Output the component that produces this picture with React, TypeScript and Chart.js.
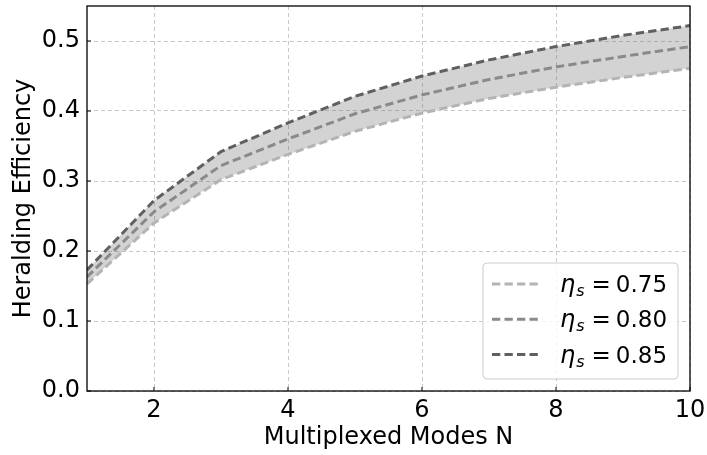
import React, { useEffect, useRef } from 'react';
import { Chart, registerables } from 'chart.js';

Chart.register(...registerables);

const modes = [1, 2, 3, 4, 5, 6, 7, 8, 9, 10];
const eta075 = [0.153, 0.240, 0.302, 0.338, 0.371, 0.397, 0.418, 0.434, 0.448, 0.461];
const eta080 = [0.163, 0.256, 0.322, 0.360, 0.396, 0.423, 0.445, 0.463, 0.478, 0.492];
const eta085 = [0.173, 0.272, 0.342, 0.383, 0.421, 0.450, 0.473, 0.492, 0.508, 0.522];
const etaLabels = ['0.75', '0.80', '0.85'];
const xTicks = [2, 4, 6, 8, 10];
const yTicks = [0, 0.1, 0.2, 0.3, 0.4, 0.5];

const FONT = 'DejaVu Sans';
const lineColors = ['#b4b4b4', '#8a8a8a', '#606060'];
const DASH = [8.3, 4.2];

const decorPlugin = {
  id: 'decor',
  afterDraw(chart: any) {
    const { ctx, chartArea: a, scales } = chart;
    ctx.save();
    // inward ticks
    ctx.strokeStyle = '#000';
    ctx.lineWidth = 1;
    xTicks.forEach((v) => {
      const px = scales.x.getPixelForValue(v);
      ctx.beginPath();
      ctx.moveTo(px, a.bottom);
      ctx.lineTo(px, a.bottom - 4);
      ctx.stroke();
    });
    yTicks.forEach((v) => {
      const py = scales.y.getPixelForValue(v);
      ctx.beginPath();
      ctx.moveTo(a.left, py);
      ctx.lineTo(a.left + 4, py);
      ctx.stroke();
    });
    // frame
    ctx.lineWidth = 1.3;
    ctx.strokeRect(a.left, a.top, a.right - a.left, a.bottom - a.top);

    // legend
    const w = 195;
    const h = 116;
    const lx = a.right - 12 - w;
    const ly = a.bottom - 12 - h;
    ctx.beginPath();
    ctx.roundRect(lx, ly, w, h, 4);
    ctx.fillStyle = 'rgba(255,255,255,0.8)';
    ctx.fill();
    ctx.strokeStyle = '#cccccc';
    ctx.lineWidth = 1;
    ctx.stroke();

    chart.data.datasets.forEach((ds: any, i: number) => {
      const cy = ly + 21 + i * 35.3;
      ctx.save();
      ctx.strokeStyle = ds.borderColor;
      ctx.lineWidth = ds.borderWidth;
      ctx.setLineDash(ds.borderDash);
      ctx.beginPath();
      ctx.moveTo(lx + 9, cy);
      ctx.lineTo(lx + 57, cy);
      ctx.stroke();
      ctx.restore();

      const base = cy + 8;
      let tx = lx + 77;
      ctx.fillStyle = '#000';
      ctx.textBaseline = 'alphabetic';
      ctx.textAlign = 'left';
      ctx.font = `italic 24px ${FONT}`;
      ctx.fillText('η', tx, base);
      tx += ctx.measureText('η').width + 1;
      ctx.font = `italic 16px ${FONT}`;
      ctx.fillText('s', tx, base + 4);
      tx += ctx.measureText('s').width + 7;
      ctx.font = `23px ${FONT}`;
      ctx.fillText('=', tx, base);
      tx += ctx.measureText('=').width + 5;
      ctx.fillText(etaLabels[i], tx, base);
    });
    ctx.restore();
  },
};

export default function App() {
  const ref = useRef<HTMLCanvasElement | null>(null);

  useEffect(() => {
    document.body.style.margin = '0';
    const canvas = ref.current;
    if (!canvas) return;
    const mk = (vals: number[]) => modes.map((m, i) => ({ x: m, y: vals[i] }));
    const chart = new Chart(canvas, {
      type: 'line',
      data: {
        datasets: [
          {
            label: 'ηs = 0.75',
            data: mk(eta075),
            borderColor: lineColors[0],
            borderWidth: 3,
            borderDash: DASH,
            pointRadius: 0,
            fill: false,
          },
          {
            label: 'ηs = 0.80',
            data: mk(eta080),
            borderColor: lineColors[1],
            borderWidth: 3,
            borderDash: DASH,
            pointRadius: 0,
            fill: false,
          },
          {
            label: 'ηs = 0.85',
            data: mk(eta085),
            borderColor: lineColors[2],
            borderWidth: 3,
            borderDash: DASH,
            pointRadius: 0,
            fill: 0,
            backgroundColor: 'rgba(110,110,110,0.3)',
          },
        ],
      },
      options: {
        animation: false,
        responsive: false,
        maintainAspectRatio: false,
        layout: { padding: { top: 6, right: 17, left: 0, bottom: 0 } },
        plugins: {
          legend: { display: false },
          tooltip: { enabled: false },
          filler: { drawTime: 'beforeDatasetsDraw' },
        },
        scales: {
          x: {
            type: 'linear',
            min: 1,
            max: 10,
            afterBuildTicks: (s: any) => {
              s.ticks = xTicks.map((v) => ({ value: v }));
            },
            afterFit: (s: any) => {
              s.height = 64;
              s.paddingLeft = 0;
              s.paddingRight = 0;
            },
            ticks: {
              color: '#000',
              font: { family: FONT, size: 24 },
              padding: 5,
              maxRotation: 0,
              callback: (v: any) => String(v),
            },
            grid: {
              drawTicks: false,
              color: '#c8c8c8',
              lineWidth: 1,
            },
            border: { display: false, dash: [4, 3] },
            title: {
              display: true,
              text: 'Multiplexed Modes N',
              color: '#000',
              font: { family: FONT, size: 24 },
              padding: { top: 0, bottom: 3 },
            },
          },
          y: {
            type: 'linear',
            min: 0,
            max: 0.55,
            afterBuildTicks: (s: any) => {
              s.ticks = yTicks.map((v) => ({ value: v }));
            },
            afterFit: (s: any) => {
              s.width = 87;
              s.paddingTop = 0;
              s.paddingBottom = 0;
            },
            ticks: {
              color: '#000',
              font: { family: FONT, size: 24 },
              padding: 7,
              callback: (v: any) => Number(v).toFixed(1),
            },
            grid: {
              drawTicks: false,
              color: '#c8c8c8',
              lineWidth: 1,
            },
            border: { display: false, dash: [4, 3] },
            title: {
              display: true,
              text: 'Heralding Efficiency',
              color: '#000',
              font: { family: FONT, size: 24 },
              padding: { top: 9, bottom: 0 },
            },
          },
        },
      },
      plugins: [decorPlugin],
    } as any);
    return () => chart.destroy();
  }, []);

  return (
    <div style={{ width: 707, height: 455 }}>
      <canvas ref={ref} width={707} height={455} style={{ display: 'block' }} />
    </div>
  );
}
